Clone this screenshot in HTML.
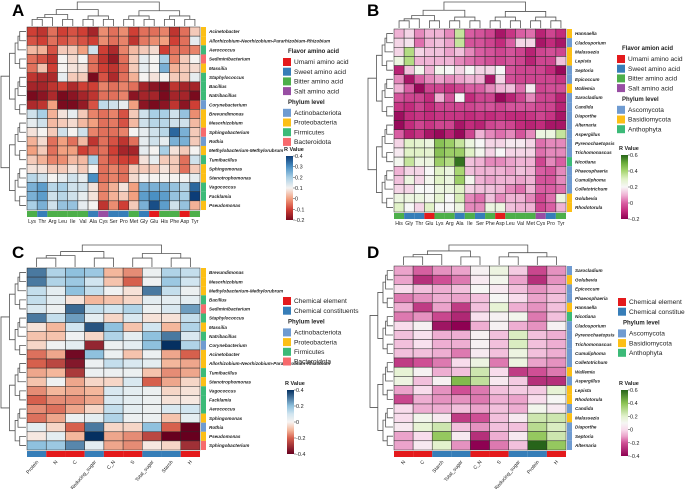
<!DOCTYPE html>
<html><head><meta charset="utf-8"><style>
body{margin:0;background:#fff}
svg{display:block;font-family:"Liberation Sans",sans-serif}
</style></head><body>
<svg id="fig" width="685" height="489" viewBox="0 0 685 489"></svg>
<script>
// ---------- Panel A data ----------
const aCols=["Lys","Thr","Arg","Leu","Ile","Val","Ala","Cys","Ser","Pro","Met","Gly","Glu","His","Phe","Asp","Tyr"];
const aColAnn=["G","B","G","G","G","G","B","P","B","B","G","B","R","G","G","R","G"];
const aRows=["Acinetobacter","Allorhizobium-Neorhizobium-Pararhizobium-Rhizobium","Aerococcus","Sediminibacterium","Massilia","Staphylococcus","Bacillus","Natribacillus","Corynebacterium","Brevundimonas","Mesorhizobium","Sphingobacterium","Rothia","Methylobacterium-Methylorubrum","Tumibacillus","Sphingomonas","Stenotrophomonas","Vagococcus","Facklamia","Pseudomonas"];
const aRowAnn=["Y","Y","F","K","Y","F","F","F","A","Y","Y","K","A","Y","F","Y","Y","F","F","Y"];
const aVals=[
[-0.1,-0.12,-0.05,-0.1,-0.08,-0.1,-0.15,-0.02,-0.05,-0.02,-0.1,-0.05,-0.05,-0.03,-0.12,-0.05,0.05],
[-0.08,-0.1,-0.05,-0.08,-0.06,-0.08,-0.1,-0.02,-0.05,-0.03,-0.12,-0.04,-0.02,0,-0.1,-0.05,0.12],
[0.03,0.02,-0.08,0.05,0.05,0,0.15,-0.1,-0.14,-0.03,0.03,0.05,0.07,-0.1,-0.05,-0.05,-0.03],
[-0.05,-0.08,-0.12,0.1,0.07,0.1,-0.05,-0.12,-0.17,-0.05,0.05,0.12,0.1,0.2,-0.03,0.05,0.1],
[-0.05,0.04,-0.1,0.1,0.08,0.08,-0.05,-0.1,-0.12,-0.06,0.05,0.12,0.1,0.25,0.02,0.05,0.07],
[-0.12,-0.14,-0.14,0.12,0.05,0.05,-0.2,-0.08,-0.14,-0.05,0.02,0.1,0.08,0.1,0.05,0.05,0.12],
[-0.15,-0.15,-0.12,-0.1,-0.14,-0.1,-0.1,-0.03,-0.05,-0.03,-0.05,-0.15,-0.18,-0.2,-0.12,-0.15,-0.15],
[-0.2,-0.18,-0.14,-0.2,-0.18,-0.15,-0.12,-0.05,-0.05,-0.03,-0.18,-0.15,-0.15,-0.2,-0.15,-0.15,-0.2],
[-0.14,-0.12,0,-0.2,-0.2,-0.17,-0.08,0.17,0.15,0.12,0,-0.18,-0.2,-0.18,-0.12,-0.18,-0.1],
[0.15,0.2,0.02,0.08,0.12,0.05,-0.03,-0.05,-0.03,-0.08,0.05,0.15,0.2,0.2,0.15,0.22,-0.02],
[0.12,0.15,0.03,0.05,0.07,0.03,0,-0.05,-0.04,-0.08,0.03,0.15,0.18,0.18,0.15,0.15,0.03],
[0.08,0.1,0.05,0.15,0.1,0.15,-0.03,-0.05,-0.05,-0.03,0.1,0.12,0.15,0.18,0.35,0.25,0.05],
[0.02,0.07,-0.05,0,-0.05,0.03,-0.12,-0.05,-0.08,-0.12,-0.05,0.12,0.15,0.12,0.25,0.25,0.05],
[0,0.05,-0.05,0,0,-0.1,-0.07,-0.05,-0.1,-0.15,-0.15,0.12,0.1,0.2,0.08,0.05,0.1],
[0.05,0.02,-0.03,-0.02,0.03,0.03,0.2,-0.05,-0.08,-0.1,-0.1,0.08,0.12,0.05,0.05,-0.05,0.15],
[0.08,0.08,0.05,0.05,0.08,0.05,0.1,-0.05,-0.03,-0.05,0.05,0.05,0.05,0.08,0.05,-0.05,0.05],
[0.18,0.15,0.1,0.12,0.15,0.12,0.3,-0.05,-0.03,-0.05,0.07,0.1,0.1,0.1,0.1,0.1,0.12],
[0.25,0.28,0.18,0.2,0.15,0.15,0.08,-0.03,0.02,0.08,0,0.25,0.25,0.25,0.22,0.18,0.35],
[0.25,0.28,0.15,0.18,0.15,0.12,0.08,-0.03,0.02,0.05,0,0.28,0.3,0.28,0.22,0.2,0.4],
[0.2,0.25,0.15,0.22,0.22,0.12,0.1,-0.12,-0.02,-0.1,0.05,0.25,0.38,0.28,0.15,0.22,0.02]];
const aTicks=[0.4,0.3,0.2,0.1,0,-0.1,-0.2];
// ---------- Panel B data ----------
const bCols=["His","Gly","Thr","Glu","Lys","Arg","Ala","Ile","Ser","Phe","Asp","Leu","Val","Met","Cys","Pro","Tyr"];
const bColAnn=["G","B","B","R","G","G","B","G","B","G","R","G","G","G","P","B","G"];
const bRows=["Hannaella","Cladosporium","Malassezia","Lepista","Septoria","Epicoccum","Wallemia","Sarocladium","Candida","Diaporthe","Alternaria","Aspergillus","Pyrenochaetopsis","Trichomonascus","Nicotiana","Phaeosphaeria","Cumuliphoma","Colletotrichum","Golubevia","Rhodotorula"];
const bRowAnn=["Y","A","Y","Y","A","A","Y","A","A","A","A","A","A","A","N","A","A","A","Y","Y"];
const bVals=[
[0.1,0.15,0.05,0.1,0.1,0.05,0.35,0,-0.02,-0.05,-0.15,-0.08,0,0.02,-0.12,-0.05,-0.1],
[0.15,0.17,0.02,0.1,0.12,0.08,0.35,-0.02,-0.02,-0.05,-0.1,0,0.15,0.15,-0.15,-0.1,-0.15],
[0.15,0.38,0.15,0.12,0.12,0.08,0.12,0.05,0,-0.02,-0.05,-0.02,-0.05,-0.12,-0.05,-0.03,-0.05],
[0.25,0.38,0.1,0.1,0.1,0.1,0.05,0.02,0,-0.03,-0.05,-0.02,-0.05,-0.12,-0.05,-0.05,0.12],
[-0.12,0.12,0.22,0.1,0.22,0.2,0.15,0.2,0.15,0.15,0.2,-0.02,-0.05,-0.05,-0.05,-0.1,-0.18],
[0.05,-0.15,0,0.05,0.08,0.05,0.08,0.1,0.1,-0.15,0.15,-0.03,-0.05,-0.05,-0.05,-0.05,-0.08],
[0.1,0,-0.18,-0.05,-0.05,-0.08,-0.05,0,0,0.05,0.1,0.12,0.02,0.18,-0.05,-0.03,-0.03],
[-0.02,-0.05,-0.05,-0.1,0.1,-0.02,0.2,-0.1,-0.05,-0.05,-0.18,-0.12,-0.05,0.05,-0.05,-0.05,-0.12],
[-0.08,-0.1,-0.05,-0.1,-0.05,-0.05,-0.05,-0.05,-0.03,-0.02,-0.05,-0.02,-0.02,-0.02,-0.05,-0.05,-0.12],
[-0.17,-0.1,-0.08,-0.1,-0.08,-0.08,-0.08,-0.1,-0.08,-0.1,-0.08,-0.1,-0.1,-0.08,-0.05,-0.08,-0.15],
[-0.18,-0.1,-0.05,-0.08,-0.05,-0.05,-0.15,-0.1,-0.12,-0.05,-0.03,-0.05,-0.1,-0.12,-0.1,-0.15,-0.15],
[0,-0.12,-0.08,-0.15,-0.18,-0.12,-0.18,-0.05,0.1,0.05,0.02,0.05,-0.02,0.05,0.25,0.25,0.35],
[0.15,0.3,0.28,0.25,0.45,0.42,0.35,0.25,0.2,0.15,0.15,0.18,0.18,0.15,0.02,0.05,0.05],
[0.18,0.3,0.3,0.28,0.45,0.42,0.42,0.3,0.22,0.15,0.2,0.15,0.15,0.15,0.02,0.05,0.05],
[0.22,0.35,0.25,0.25,0.42,0.38,0.58,0.12,0.1,0.05,0.05,0.08,0.1,0.1,-0.05,0.05,0],
[0.1,0.15,0.15,0.2,0.3,0.25,0.4,0.12,0.1,0.1,0.1,0.08,0.12,0.1,0,-0.02,0.05],
[0.12,0.25,0.15,0.22,0.3,0.25,0.42,0.22,0.1,0.08,0.1,0.1,0.08,0.1,-0.02,-0.02,0.05],
[0.15,0.15,0.2,0.2,0.25,0.25,0.3,0.15,0.12,0.12,0.1,0.05,0.02,0.1,0,0,0.02],
[0.25,0.25,0.25,0.22,0.28,0.2,0.32,0.05,0.02,0.12,0.05,0.1,0.1,0.05,-0.05,0.02,0.25],
[0.3,0.2,0.15,0.3,0.2,0.2,0.25,0.05,0.05,0.25,0.25,0.12,0.1,0.1,-0.05,0,0.1]];
const bTicks=[0.6,0.4,0.2,0,-0.2];
// ---------- Panel C data ----------
const cCols=["Protein","N","C","Reducing_sugar","C_N","S","Total_sugar","Starch","H"];
const cColAnn=["B","R","R","B","R","R","B","B","R"];
const cRows=["Brevundimonas","Mesorhizobium","Methylobacterium-Methylorubrum","Bacillus","Sediminibacterium","Staphylococcus","Massilia","Natribacillus","Corynebacterium","Acinetobacter","Allorhizobium-Neorhizobium-Pararhizobium-Rhizobium","Tumibacillus","Stenotrophomonas","Vagococcus","Facklamia","Aerococcus","Sphingomonas","Rothia","Pseudomonas","Sphingobacterium"];
const cRowAnn=["Y","Y","Y","F","K","F","Y","F","A","Y","Y","F","Y","F","F","F","Y","A","Y","K"];
const cVals=[
[0.3,0.15,0.2,0.18,-0.1,-0.15,0.03,0.15,0.12],
[0.3,0.15,0.18,0.1,-0.08,-0.2,0.02,0.18,0.1],
[0.12,0.05,0.2,0.12,0.02,-0.03,0.3,0.12,0.03],
[0.12,0.05,-0.03,-0.1,-0.08,-0.05,0.05,0.05,0.05],
[0.08,0.03,0.32,0.12,0.1,0.15,0.03,0.08,0.25],
[0.3,0.12,0.25,0.05,-0.05,0.08,-0.03,-0.03,0.12],
[-0.03,-0.1,0.1,0.35,0.2,-0.08,0.1,-0.1,0.15],
[-0.08,-0.08,0.02,-0.05,0.15,0.05,0.2,0.3,0.08],
[-0.05,0.02,0.05,-0.32,0.03,0.05,0.2,0.4,0.15],
[-0.18,-0.12,-0.38,0.2,0.03,-0.08,0.03,-0.12,-0.2],
[-0.2,-0.25,-0.35,0.03,0.12,0.08,0.05,-0.1,-0.12],
[-0.12,-0.1,-0.28,0.03,0.03,0.03,-0.08,-0.15,-0.12],
[-0.08,0.02,-0.12,-0.05,-0.05,0.08,-0.2,-0.12,-0.05],
[-0.15,-0.1,-0.12,-0.1,0.08,0.05,0.03,-0.05,-0.03],
[-0.2,-0.15,-0.15,-0.12,0.08,0.05,0.03,-0.03,-0.02],
[-0.15,-0.18,-0.12,-0.05,0.12,0.05,0.03,0.08,0.1],
[-0.18,-0.12,0.03,0.05,0.15,0.03,0.03,-0.08,0.05],
[0.05,-0.05,-0.2,0.3,-0.05,-0.05,0.2,-0.2,-0.4],
[-0.02,0.05,-0.1,0.4,-0.12,-0.15,-0.25,-0.45,-0.4],
[0.2,0.18,0.28,0.05,-0.12,-0.15,-0.02,-0.05,-0.3]];
const cTicks=[0.4,0.2,0,-0.2,-0.4];
// ---------- Panel D data ----------
const dCols=["N","C","Starch","Total_sugar","C_N","S","Reducing_sugar","Protein","H"];
const dColAnn=["R","R","B","B","R","R","B","B","R"];
const dRows=["Sarocladium","Golubevia","Epicoccum","Phaeosphaeria","Hannaella","Nicotiana","Cladosporium","Pyrenochaetopsis","Trichomonascus","Cumuliphoma","Colletotrichum","Wallemia","Aspergillus","Lepista","Rhodotorula","Candida","Malassezia","Diaporthe","Septoria","Alternaria"];
const dRowAnn=["A","Y","A","A","Y","N","A","A","A","A","A","Y","A","Y","Y","A","Y","A","A","A"];
const dVals=[
[-0.1,-0.18,-0.12,-0.1,0.08,0.15,-0.03,-0.22,-0.12],
[-0.1,-0.28,-0.2,-0.15,0.05,0.12,-0.1,-0.28,-0.12],
[0,-0.05,-0.08,-0.05,0.1,0.05,-0.05,-0.12,-0.08],
[-0.15,-0.12,-0.08,-0.1,-0.05,0.1,0,-0.1,-0.05],
[-0.08,-0.25,-0.1,-0.25,-0.05,0.18,-0.08,-0.12,-0.05],
[-0.15,-0.12,-0.22,-0.3,0.02,0.08,0.12,-0.15,-0.05],
[0,0.08,-0.35,-0.4,-0.08,0.08,-0.08,-0.12,0.08],
[-0.05,0.02,-0.08,-0.08,0.08,-0.05,0.22,-0.05,-0.08],
[-0.05,0.02,-0.08,-0.08,0.08,-0.05,0.22,-0.05,-0.08],
[-0.05,-0.05,-0.08,-0.15,0.05,-0.05,0.15,-0.05,-0.08],
[-0.25,-0.2,-0.15,0,0.15,-0.15,0.15,-0.1,-0.12],
[0.18,0.08,-0.08,-0.05,0.25,0,-0.25,-0.2,-0.15],
[0.15,-0.05,0.08,0.42,0.28,0.05,-0.03,-0.28,-0.28],
[-0.1,0,-0.12,-0.2,-0.15,-0.05,-0.03,-0.03,0.18],
[-0.22,-0.08,-0.12,-0.12,-0.15,-0.08,-0.1,0,0.1],
[0,-0.08,-0.08,-0.05,-0.1,-0.05,-0.08,0.12,0.05],
[0,0.12,0.05,-0.25,-0.2,-0.05,0.05,0.25,0.25],
[0.05,0.18,0.25,-0.05,-0.12,-0.05,-0.05,0.3,0.22],
[-0.1,0,0.38,0.05,-0.28,-0.08,0.05,0.38,0.25],
[-0.1,0.05,0.2,-0.12,-0.4,-0.15,-0.05,0.6,0.38]];
const dTicks=[0.6,0.4,0.2,0,-0.2,-0.4];

const PAL={R:"#e41a1c",B:"#377eb8",G:"#4daf4a",P:"#984ea3",A:"#6f9bd1",Y:"#fcbf16",F:"#3cba78",K:"#f76a6d",N:"#3cba78"};
const NS="http://www.w3.org/2000/svg";
const svg=document.getElementById("fig");
function mk(tag,attrs,parent,txt){const e=document.createElementNS(NS,tag);for(const k in attrs)e.setAttribute(k,attrs[k]);if(txt!==undefined)e.textContent=txt;(parent||svg).appendChild(e);return e;}
function hex(h){return[parseInt(h.slice(1,3),16),parseInt(h.slice(3,5),16),parseInt(h.slice(5,7),16)];}
function colorFor(stops,v){
  if(v<=stops[0][0])return stops[0][1];
  if(v>=stops[stops.length-1][0])return stops[stops.length-1][1];
  for(let i=0;i<stops.length-1;i++){const[a,ca]=stops[i],[b,cb]=stops[i+1];
    if(v>=a&&v<=b){const t=(v-a)/(b-a),x=hex(ca),y=hex(cb);return"rgb("+x.map((q,j)=>Math.round(q+(y[j]-q)*t)).join(",")+")";}}
}
const stA=[[-0.2,"#7a0b1e"],[-0.1,"#cf3f35"],[0,"#f2a080"],[0.1,"#f5f3f1"],[0.2,"#a9cfe5"],[0.3,"#4a90c4"],[0.4,"#0c3d78"]];
const stB=[[-0.2,"#8e0152"],[-0.1,"#c22b7c"],[0,"#d95ea3"],[0.1,"#f0b3d5"],[0.2,"#f7f7f7"],[0.3,"#e1f2c8"],[0.4,"#a8d672"],[0.5,"#6aac3a"],[0.6,"#27641a"]];
const stC=[[-0.4,"#67001f"],[-0.2,"#d6604d"],[-0.1,"#f4b79c"],[0,"#f7f4f2"],[0.1,"#d1e5f0"],[0.2,"#8fc1de"],[0.4,"#053061"]];
const stD=[[-0.4,"#8e0152"],[-0.2,"#cf4f95"],[-0.1,"#eba3cb"],[0,"#f8dcec"],[0.1,"#f6f6f4"],[0.2,"#e3f2cd"],[0.4,"#8cc353"],[0.6,"#27641a"]];

function dendro(g,n,pos,base,tip,vertical){
  function build(lo,hi){
    if(lo===hi)return{c:pos(lo),h:0};
    const mid=Math.floor((lo+hi)/2);const L=build(lo,mid),R=build(mid+1,hi);
    const h=Math.pow((hi-lo+1)/n,0.6);
    const hp=base+(tip-base)*h, lp=base+(tip-base)*L.h, rp=base+(tip-base)*R.h;
    const d=vertical?`M${L.c},${lp}V${hp}H${R.c}V${rp}`:`M${lp},${L.c}H${hp}V${R.c}H${rp}`;
    mk("path",{d:d,fill:"none",stroke:"#555","stroke-width":0.8},g);
    return{c:(L.c+R.c)/2,h:h};
  }
  build(0,n-1);
}

function panel(o){
  const g=mk("g",{});
  
  
  const nr=o.rows.length,nc=o.cols.length;
  const cw=(o.x1-o.x0)/nc,ch=(o.y1-o.y0)/nr;
  const xs=i=>o.x0+i*cw, ys=j=>o.y0+j*ch;
  for(let r=0;r<nr;r++)for(let c=0;c<nc;c++){
    const e=mk("rect",{x:xs(c),y:ys(r),width:cw,height:ch,fill:colorFor(o.stops,o.vals[r][c]),stroke:"#2b2b2b","stroke-width":0.5},g);
    
    
  }
  for(let c=0;c<nc;c++){
    const e=mk("rect",{x:xs(c),y:o.y1+1,width:cw,height:6,fill:PAL[o.colAnn[c]]},g);
    
    
  }
  for(let r=0;r<nr;r++){
    const e=mk("rect",{x:o.x1+1,y:ys(r),width:5,height:ch,fill:PAL[o.rowAnn[r]]},g);
    
    
    const t=mk("text",{x:o.x1+9,y:ys(r)+ch/2+1.6,"font-size":4.6,"font-style":"italic","font-weight":"bold",fill:"#222"},g,o.rows[r]);
    
    
  }
  for(let c=0;c<nc;c++){
    const cx=xs(c)+cw/2;let t;
    if(o.rot){t=mk("text",{x:cx+2,y:o.y1+12,"font-size":5,"text-anchor":"end",fill:"#222",transform:`rotate(-50 ${cx+2} ${o.y1+12})`},g,o.cols[c]);}
    else t=mk("text",{x:cx,y:o.y1+13,"font-size":5.2,"text-anchor":"middle",fill:"#222"},g,o.cols[c]);
    
    
  }
  dendro(g,nc,i=>xs(i)+cw/2,o.y0-1,o.topTip,true);
  dendro(g,nr,j=>ys(j)+ch/2,o.x0-1,o.leftTip,false);
  const L=mk("text",{x:o.lx,y:o.ly,"font-size":17,"font-weight":"bold",fill:"#000"},g,o.letter);
  
  
  let y=o.legY;
  o.legend.forEach(sec=>{
    const h=mk("text",{x:o.legX+5,y:y,"font-size":6,"font-weight":"bold",fill:"#222"},g,sec.title);
    
    
    y+=5;
    sec.items.forEach(it=>{
      const r=mk("rect",{x:o.legX,y:y,width:8,height:8,fill:PAL[it[0]]},g);
      
      
      const t=mk("text",{x:o.legX+11,y:y+6.2,"font-size":6.6,fill:"#222"},g,it[1]);
      
      
      y+=9.7;
    });
    y+=7;
  });
  const cb=o.cb; const id="grad"+o.letter;
  const defs=mk("defs",{},g);const lg=mk("linearGradient",{id:id,x1:0,y1:1,x2:0,y2:0},defs);
  const mn=o.stops[0][0],mx=o.stops[o.stops.length-1][0];
  o.stops.forEach(s=>mk("stop",{offset:(s[0]-mn)/(mx-mn),"stop-color":s[1]},lg));
  const rt=mk("text",{x:cb.x-2,y:cb.y-5,"font-size":5.5,"font-weight":"bold",fill:"#222"},g,"R Value");
  
  
  const bar=mk("rect",{x:cb.x,y:cb.y,width:7,height:cb.h,fill:`url(#${id})`},g);
  
  
  o.ticks.forEach(v=>{
    const ty=cb.y+cb.h*(mx-v)/(mx-mn);
    mk("line",{x1:cb.x+7,x2:cb.x+9,y1:ty,y2:ty,stroke:"#333","stroke-width":0.5},g);
    const t=mk("text",{x:cb.x+9,y:ty+2,"font-size":5.5,fill:"#222"},g,(v===0?"0":String(v)));
    
    
  });
}
const flav=[["R","Umami amino acid"],["B","Sweet amino acid"],["G","Bitter amino acid"],["P","Salt amino acid"]];
const chem=[["R","Chemical element"],["B","Chemical constituents"]];
const bact=[["A","Actinobacteriota"],["Y","Proteobacteria"],["F","Firmicutes"],["K","Bacteroidota"]];
const fung=[["A","Ascomycota"],["Y","Basidiomycota"],["N","Anthophyta"]];
panel({name:"panel-a-heatmap",letter:"A",lx:12,ly:16,x0:27,x1:200,y0:27,y1:210,rows:aRows,cols:aCols,vals:aVals,rowAnn:aRowAnn,colAnn:aColAnn,stops:stA,ticks:aTicks,topTip:2,leftTip:1,rot:false,
 legX:283,legY:53,legend:[{title:"Flavor amino acid",items:flav},{title:"Phylum level",items:bact}],cb:{x:286,y:156,h:64}});
panel({name:"panel-b-heatmap",letter:"B",lx:367,ly:16,x0:394,x1:566,y0:29,y1:212,rows:bRows,cols:bCols,vals:bVals,rowAnn:bRowAnn,colAnn:bColAnn,stops:stB,ticks:bTicks,topTip:2,leftTip:368,rot:false,
 legX:617,legY:50,legend:[{title:"Flavor amion acid",items:flav},{title:"Phylum level",items:fung}],cb:{x:621,y:155,h:64}});
panel({name:"panel-c-heatmap",letter:"C",lx:12,ly:258,x0:27,x1:200,y0:268,y1:450,rows:cRows,cols:cCols,vals:cVals,rowAnn:cRowAnn,colAnn:cColAnn,stops:stC,ticks:cTicks,topTip:245,leftTip:1,rot:true,
 legX:283,legY:292,legend:[{title:"",items:chem},{title:"Phylum level",items:bact}],cb:{x:287,y:390,h:64}});
panel({name:"panel-d-heatmap",letter:"D",lx:367,ly:258,x0:394,x1:566,y0:266,y1:450,rows:dRows,cols:dCols,vals:dVals,rowAnn:dRowAnn,colAnn:dColAnn,stops:stD,ticks:dTicks,topTip:245,leftTip:370,rot:true,
 legX:618,legY:293,legend:[{title:"",items:chem},{title:"Phylum level",items:fung}],cb:{x:621,y:390,h:66}});
</script>
</body></html>
